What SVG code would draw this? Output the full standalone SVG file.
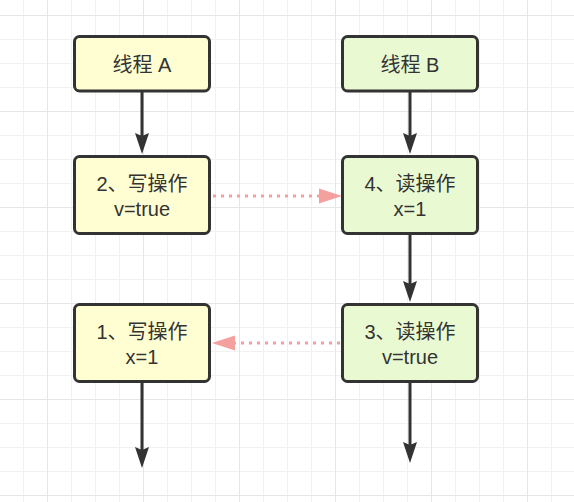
<svg xmlns="http://www.w3.org/2000/svg" width="574" height="502" viewBox="0 0 574 502">
<defs>
<style>
.minor{stroke:#f1f1f1;stroke-width:1;fill:none}
.major{stroke:#e6e6e6;stroke-width:1;fill:none}
.nodeA{fill:#fffed2;stroke:#333333;stroke-width:3}
.nodeB{fill:#e9fad3;stroke:#333333;stroke-width:3}
.lbl{font-family:"Liberation Sans","Noto Sans CJK SC",sans-serif;font-size:20px;fill:#333333;text-anchor:middle}
.flow{stroke:#333333;stroke-width:3;fill:none}
.dot{stroke:#f4a09e;stroke-width:3;fill:none;stroke-dasharray:3 5}
</style>
</defs>
<rect x="0" y="0" width="574" height="502" fill="#ffffff"/>
<g id="grid">
<path class="minor" d="M23.5 0V502M71.5 0V502M95.5 0V502M119.5 0V502M167.5 0V502M191.5 0V502M215.5 0V502M263.5 0V502M287.5 0V502M311.5 0V502M359.5 0V502M383.5 0V502M407.5 0V502M455.5 0V502M479.5 0V502M503.5 0V502M551.5 0V502"/>
<path class="minor" d="M0 39.5H574M0 63.5H574M0 87.5H574M0 135.5H574M0 159.5H574M0 183.5H574M0 231.5H574M0 255.5H574M0 279.5H574M0 327.5H574M0 351.5H574M0 375.5H574M0 423.5H574M0 447.5H574M0 471.5H574"/>
<path class="major" d="M47.5 0V502M143.5 0V502M239.5 0V502M335.5 0V502M431.5 0V502M527.5 0V502"/>
<path class="major" d="M0 15.5H574M0 111.5H574M0 207.5H574M0 303.5H574M0 399.5H574M0 495.5H574"/>
</g>
<g id="connectors">
<line class="flow" x1="142" y1="92" x2="142" y2="136"/>
<path d="M135 133 L142 136 L149 133 L142 154 Z" fill="#333333"/>
<line class="flow" x1="410" y1="92" x2="410" y2="136"/>
<path d="M403 133 L410 136 L417 133 L410 154 Z" fill="#333333"/>
<line class="flow" x1="410" y1="235" x2="410" y2="284"/>
<path d="M403 281 L410 284 L417 281 L410 302 Z" fill="#333333"/>
<line class="flow" x1="142" y1="383" x2="142" y2="450"/>
<path d="M135 447 L142 450 L149 447 L142 468 Z" fill="#333333"/>
<line class="flow" x1="410" y1="383" x2="410" y2="445"/>
<path d="M403 442 L410 445 L417 442 L410 463 Z" fill="#333333"/>
<line class="dot" x1="213" y1="196" x2="320" y2="196"/>
<path d="M319 188.5 L342 196 L319 203.5 Z" fill="#f4a09e"/>
<line class="dot" x1="340" y1="343" x2="234" y2="343"/>
<path d="M235 335.5 L212 343 L235 350.5 Z" fill="#f4a09e"/>
</g>
<g id="threadA">
<rect class="nodeA" x="74.5" y="36.5" width="135" height="54.5" rx="5"/>
<text class="lbl" x="142" y="72">线程 A</text>
</g>
<g id="threadB">
<rect class="nodeB" x="342.5" y="36.5" width="135" height="54.5" rx="5"/>
<text class="lbl" x="410" y="72">线程 B</text>
</g>
<g id="write2">
<rect class="nodeA" x="74.5" y="156.5" width="135" height="77" rx="5"/>
<text class="lbl" x="142" y="191">2、写操作</text>
<text class="lbl" x="142" y="216">v=true</text>
</g>
<g id="read4">
<rect class="nodeB" x="342.5" y="156.5" width="135" height="77" rx="5"/>
<text class="lbl" x="410" y="191">4、读操作</text>
<text class="lbl" x="410" y="216">x=1</text>
</g>
<g id="write1">
<rect class="nodeA" x="74.5" y="304.5" width="135" height="77" rx="5"/>
<text class="lbl" x="142" y="339">1、写操作</text>
<text class="lbl" x="142" y="364">x=1</text>
</g>
<g id="read3">
<rect class="nodeB" x="342.5" y="304.5" width="135" height="77" rx="5"/>
<text class="lbl" x="410" y="339">3、读操作</text>
<text class="lbl" x="410" y="364">v=true</text>
</g>
</svg>
